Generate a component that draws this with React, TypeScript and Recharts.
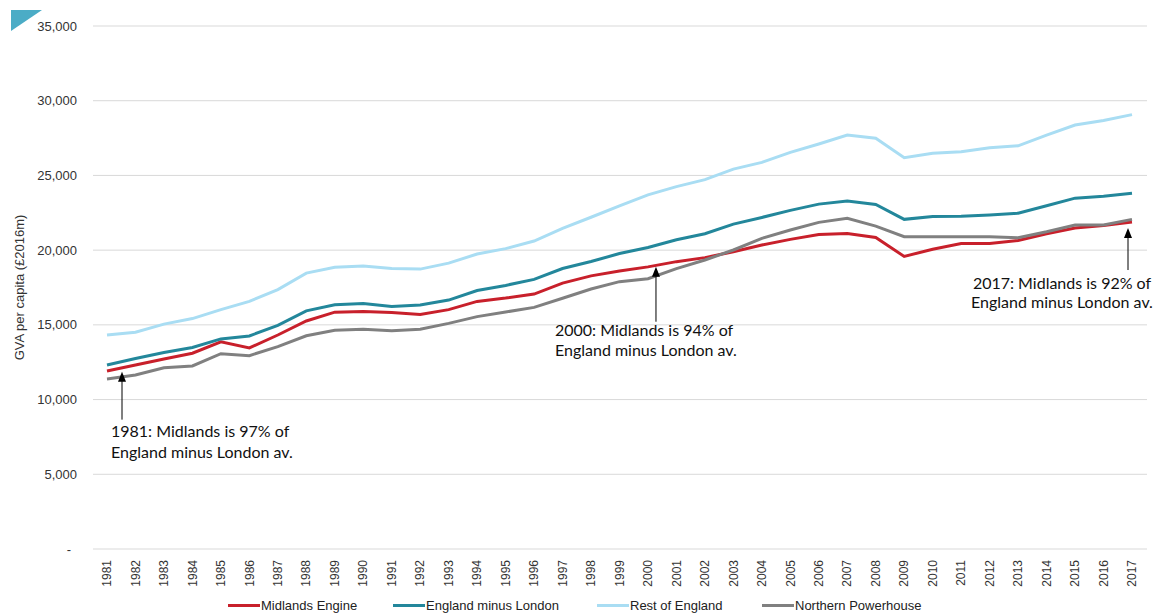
import React from 'react';
import { LineChart, Line, XAxis, YAxis, CartesianGrid, Legend, ReferenceDot, Label } from 'recharts';

const years = ['1981','1982','1983','1984','1985','1986','1987','1988','1989','1990','1991','1992','1993','1994','1995','1996','1997','1998','1999','2000','2001','2002','2003','2004','2005','2006','2007','2008','2009','2010','2011','2012','2013','2014','2015','2016','2017'];

const midlandsEngine = [11910,12310,12720,13100,13860,13460,14320,15260,15850,15900,15830,15700,16020,16570,16790,17060,17790,18280,18600,18880,19230,19500,19890,20340,20720,21040,21120,20850,19580,20060,20450,20450,20650,21100,21480,21650,21880];
const englandMinusLondon = [12310,12750,13150,13490,14060,14260,14960,15940,16350,16430,16230,16330,16660,17300,17640,18040,18770,19240,19770,20180,20700,21100,21740,22190,22660,23080,23280,23060,22060,22250,22270,22350,22470,22970,23480,23600,23800];
const restOfEngland = [14320,14510,15050,15420,16020,16570,17360,18460,18850,18940,18770,18730,19130,19740,20100,20610,21460,22200,22960,23700,24250,24720,25420,25870,26540,27100,27700,27490,26180,26490,26580,26850,26980,27700,28370,28680,29070];
const northernPowerhouse = [11380,11640,12130,12250,13070,12940,13540,14270,14640,14700,14610,14700,15100,15550,15860,16170,16780,17400,17890,18090,18760,19340,20010,20790,21350,21860,22130,21610,20900,20900,20900,20900,20830,21230,21680,21680,22060];

const yTicks = [0, 5000, 10000, 15000, 20000, 25000, 30000, 35000];

const seriesKeys = ['midlands', 'englandMinusLondon', 'restOfEngland', 'northernPowerhouse'];
const seriesNames = ['Midlands Engine', 'England minus London', 'Rest of England', 'Northern Powerhouse'];
const seriesColors = ['#C8202B', '#23879B', '#A9DDF3', '#808080'];
const legendLefts = [228, 393, 597, 762];

const annotationYears = ['1981', '2000', '2017'];
const annotationValues = [11870, 18890, 21480];
const annotationLines = [
  ['1981: Midlands is 97% of', 'England minus London av.'],
  ['2000: Midlands is 94% of', 'England minus London av.'],
  ['2017: Midlands is 92% of', 'England minus London av.'],
];
// layout of each annotation relative to arrow tip: [tipDx, lineLen, textX, textAnchor, line1Dy, line2Dy]
const annotationLayout: any[] = [
  { tipDx: 15, len: 48, tx: -11, anchor: 'start', l1: 60, l2: 81 },
  { tipDx: 8, len: 55, tx: -101, anchor: 'start', l1: 64, l2: 84 },
  { tipDx: -4, len: 42, tx: -66, anchor: 'middle', l1: 55, l2: 74 },
];

const data = years.map((year, i) => ({
  year,
  midlands: midlandsEngine[i],
  englandMinusLondon: englandMinusLondon[i],
  restOfEngland: restOfEngland[i],
  northernPowerhouse: northernPowerhouse[i],
}));

const AXIS_FONT = '"Liberation Sans", Arial, sans-serif';
const NOTE_FONT = 'Lato, "Open Sans", sans-serif';

const XTick = (props: any) => {
  const { x, y, payload } = props;
  return (
    <text x={x} y={y} transform={`rotate(-90 ${x} ${y})`} textAnchor="end" dy="0.35em" fontSize={12} fill="#333" fontFamily={AXIS_FONT}>
      {payload.value}
    </text>
  );
};

const YTick = (props: any) => {
  const { x, y, payload } = props;
  const v = payload.value;
  return (
    <text x={v === 0 ? x - 6 : x} y={y} textAnchor="end" dy="0.35em" fontSize={13} fill="#333" fontFamily={AXIS_FONT}>
      {v === 0 ? '-' : Number(v).toLocaleString('en-US')}
    </text>
  );
};

const YLabel = (props: any) => {
  const vb = props.viewBox || {};
  const cy = (vb.y || 26) + (vb.height || 523) / 2;
  return (
    <text x={19} y={cy} transform={`rotate(-90 19 ${cy})`} textAnchor="middle" dy="0.35em" fontSize={13} fill="#333" fontFamily={AXIS_FONT}>
      GVA per capita (£2016m)
    </text>
  );
};

const makeAnnotation = (idx: number) => (props: any) => {
  const { cx, cy } = props;
  const L = annotationLayout[idx];
  const tx = cx + L.tipDx;
  const ty = cy;
  return (
    <g>
      <line x1={tx} y1={ty + 8} x2={tx} y2={ty + L.len} stroke="#000" strokeWidth={1} />
      <path d={`M ${tx} ${ty} L ${tx - 4} ${ty + 10} L ${tx + 4} ${ty + 10} Z`} fill="#000" />
      <text x={tx + L.tx} y={ty + L.l1} dy="0.36em" textAnchor={L.anchor} fontSize={16} fill="#111" fontFamily={NOTE_FONT}>
        {annotationLines[idx][0]}
      </text>
      <text x={tx + L.tx} y={ty + L.l2} dy="0.36em" textAnchor={L.anchor} fontSize={16} fill="#111" fontFamily={NOTE_FONT}>
        {annotationLines[idx][1]}
      </text>
    </g>
  );
};

const LegendContent = () => (
  <div style={{ position: 'relative', width: 1164, height: 22 }}>
    {seriesNames.map((name, i) => (
      <div key={name} style={{ position: 'absolute', left: legendLefts[i], top: 3, height: 16, display: 'flex', alignItems: 'center', whiteSpace: 'nowrap' }}>
        <span style={{ display: 'inline-block', width: 32, height: 3, background: seriesColors[i] }} />
        <span style={{ marginLeft: 1, fontSize: 13, fontFamily: AXIS_FONT, color: '#222' }}>{name}</span>
      </div>
    ))}
  </div>
);

export default function App() {
  return (
    <div style={{ position: 'absolute', left: 0, top: 0, width: 1164, height: 616, background: '#fff' }}>
      <LineChart width={1164} height={616} data={data} margin={{ top: 26, right: 17, left: 0, bottom: 0 }}>
        <CartesianGrid horizontal vertical={false} stroke="#D9D9D9" strokeWidth={1} />
        <XAxis
          dataKey="year"
          type="category"
          interval={0}
          height={45}
          axisLine={false}
          tickLine={false}
          tickSize={8}
          tickMargin={3}
          padding={{ left: 14, right: 15 }}
          tick={<XTick />}
        />
        <YAxis
          width={93}
          domain={[0, 35000]}
          ticks={yTicks}
          axisLine={false}
          tickLine={false}
          tickSize={6}
          tickMargin={10}
          tick={<YTick />}
        >
          <Label content={<YLabel />} />
        </YAxis>
        <Legend verticalAlign="bottom" height={22} content={<LegendContent />} wrapperStyle={{ left: 0, width: 1164, height: 22 }} />
        {seriesKeys.map((k, i) => (
          <Line
            key={k}
            type="linear"
            dataKey={k}
            name={seriesNames[i]}
            stroke={seriesColors[i]}
            strokeWidth={3}
            dot={false}
            activeDot={false}
            isAnimationActive={false}
          />
        ))}
        {annotationYears.map((yr, i) => (
          <ReferenceDot key={yr} x={yr} y={annotationValues[i]} ifOverflow="visible" shape={makeAnnotation(i)} />
        ))}
      </LineChart>
      <svg style={{ position: 'absolute', left: 0, top: 0 }} width={50} height={40}>
        <path d="M 11 10 L 42 10 L 11 31 Z" fill="#4BACC6" />
      </svg>
    </div>
  );
}
